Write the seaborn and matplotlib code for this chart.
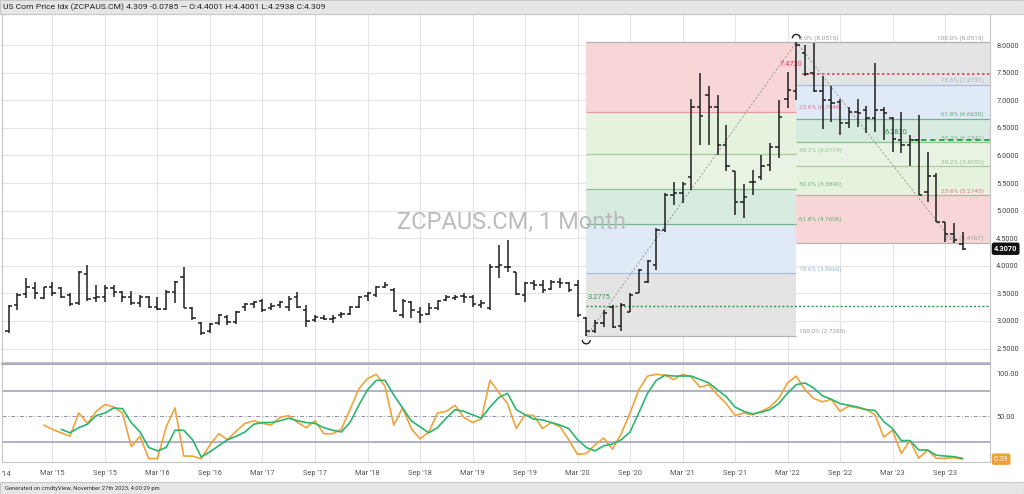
import matplotlib
matplotlib.use("Agg")
import matplotlib.pyplot as plt
import matplotlib.transforms as mtransforms
from matplotlib.patches import Arc, Rectangle
import seaborn as sns
import pandas as pd

sns.set_theme(style="white")
plt.rcParams["font.family"] = ["Roboto", "DejaVu Sans"]

# monthly bars, Oct 2014 .. Nov 2023
months = pd.date_range("2014-10-01", periods=110, freq="MS")

opens = [
    2.81, 3.29, 3.48, 3.59, 3.41, 3.62, 3.59, 3.47, 3.32, 3.86,
    3.41, 3.44, 3.59, 3.53, 3.44, 3.32, 3.44, 3.26, 3.22, 3.53,
    3.80, 3.24, 2.96, 2.81, 2.96, 3.08, 2.99, 3.26, 3.30, 3.36,
    3.24, 3.29, 3.26, 3.44, 3.20, 3.02, 3.06, 3.04, 3.10, 3.12,
    3.26, 3.46, 3.47, 3.62, 3.56, 3.11, 3.34, 3.16, 3.12, 3.23,
    3.38, 3.42, 3.46, 3.44, 3.29, 3.23, 3.98, 3.98, 3.88, 3.47,
    3.68, 3.65, 3.58, 3.70, 3.68, 3.65, 3.05, 2.81, 2.96, 3.26,
    2.91, 3.17, 3.50, 3.71, 4.01, 4.65, 5.28, 5.31, 5.61, 6.88,
    7.09, 6.87, 6.19, 5.71, 5.16, 5.52, 5.61, 5.83, 6.16, 7.03,
    7.16, 7.85, 7.49, 7.16, 7.00, 6.97, 6.58, 6.79, 6.82, 6.67,
    6.82, 6.67, 6.28, 6.19, 6.28, 5.34, 5.62, 4.80, 4.58, 4.40,
]
highs = [
    3.29, 3.50, 3.77, 3.71, 3.62, 3.70, 3.62, 3.50, 3.91, 4.01,
    3.65, 3.65, 3.65, 3.54, 3.54, 3.47, 3.46, 3.44, 3.56, 3.72,
    3.98, 3.26, 2.99, 2.96, 3.12, 3.10, 3.18, 3.32, 3.36, 3.40,
    3.32, 3.36, 3.46, 3.53, 3.29, 3.11, 3.10, 3.10, 3.16, 3.28,
    3.46, 3.53, 3.64, 3.71, 3.59, 3.40, 3.36, 3.26, 3.32, 3.38,
    3.47, 3.47, 3.50, 3.47, 3.38, 4.04, 4.38, 4.47, 3.89, 3.71,
    3.74, 3.74, 3.74, 3.77, 3.70, 3.74, 3.08, 3.02, 3.20, 3.29,
    3.32, 3.50, 3.95, 4.11, 4.68, 5.31, 5.51, 5.52, 7.03, 7.49,
    7.25, 7.09, 6.55, 5.71, 5.49, 5.74, 6.01, 6.22, 7.00, 7.52,
    8.0515, 8.00, 8.04, 7.43, 7.25, 7.03, 6.88, 7.03, 6.90, 7.67,
    6.88, 6.69, 6.79, 6.37, 6.73, 6.07, 5.68, 4.80, 4.78, 4.62,
]
lows = [
    2.78, 3.20, 3.41, 3.40, 3.40, 3.46, 3.41, 3.28, 3.29, 3.36,
    3.34, 3.34, 3.44, 3.35, 3.29, 3.26, 3.23, 3.20, 3.20, 3.32,
    3.23, 3.02, 2.75, 2.78, 2.93, 2.93, 2.94, 3.18, 3.24, 3.16,
    3.20, 3.24, 3.18, 3.23, 2.90, 2.99, 3.02, 2.96, 3.05, 3.10,
    3.24, 3.36, 3.44, 3.59, 3.17, 3.05, 3.06, 2.96, 3.11, 3.20,
    3.36, 3.38, 3.32, 3.26, 3.23, 3.20, 3.77, 3.89, 3.47, 3.34,
    3.56, 3.50, 3.56, 3.59, 3.53, 3.08, 2.7265, 2.78, 2.90, 2.87,
    2.81, 3.17, 3.50, 3.68, 3.92, 4.62, 5.10, 5.13, 5.37, 6.19,
    6.19, 6.01, 5.71, 4.92, 4.86, 5.28, 5.55, 5.71, 5.95, 6.85,
    7.00, 7.43, 7.14, 6.47, 6.61, 6.37, 6.49, 6.52, 6.40, 6.43,
    6.28, 6.07, 6.04, 5.80, 5.28, 5.16, 4.80, 4.44, 4.4167, 4.2938,
]
closes = [
    3.28, 3.47, 3.62, 3.50, 3.62, 3.50, 3.44, 3.30, 3.88, 3.40,
    3.44, 3.59, 3.53, 3.44, 3.32, 3.44, 3.26, 3.22, 3.53, 3.70,
    3.24, 3.05, 2.78, 2.94, 3.10, 2.99, 3.16, 3.30, 3.34, 3.20,
    3.28, 3.34, 3.40, 3.26, 3.00, 3.08, 3.04, 3.05, 3.12, 3.26,
    3.44, 3.50, 3.62, 3.66, 3.18, 3.36, 3.20, 3.10, 3.23, 3.36,
    3.44, 3.44, 3.44, 3.30, 3.32, 3.98, 4.01, 3.97, 3.48, 3.68,
    3.65, 3.56, 3.70, 3.68, 3.56, 3.11, 2.81, 2.97, 3.15, 2.90,
    3.29, 3.47, 3.92, 4.08, 4.65, 5.28, 5.31, 5.49, 6.88, 6.71,
    6.87, 6.19, 5.80, 5.16, 5.25, 5.52, 5.80, 6.16, 6.70, 7.18,
    8.00, 7.472, 7.16, 7.00, 6.95, 6.59, 6.79, 6.77, 6.67, 6.82,
    6.77, 6.30, 6.19, 6.28, 5.28, 5.62, 4.80, 4.58, 4.47, 4.309,
]

# stochastic oscillator (%K orange from bar 4, %D green from bar 6)
stoch_k_start = 4
stoch_k = [
    40, 35, 31, 27, 54, 42, 56, 64, 61, 54,
    15, 27, 1, 1, 38, 60, 4, 4, 1, 17,
    30, 23, 33, 42, 45, 42, 40, 49, 51, 43,
    37, 45, 30, 30, 35, 58, 82, 94, 99, 85,
    40, 60, 36, 24, 32, 54, 56, 63, 49, 43,
    47, 92, 78, 65,
    36, 52, 51, 36, 43, 38, 23, 6, 7, 17,
    25, 12, 30, 54, 81, 97, 99, 98, 93, 99,
    96, 84, 87, 75, 65, 51, 54, 52, 56, 61,
    71, 89, 97, 81, 71, 67, 70, 56, 62, 60,
    58, 52, 26, 34, 7, 22, 1.4, 11, 1.4, 1.4, 2.1, 0.39,
]
stoch_d_start = 6
stoch_d = [
    35, 31, 37, 41, 51, 54, 60, 59, 43, 32,
    14, 10, 14, 34, 34, 23, 3, 9, 16, 23,
    27, 32, 41, 43, 43, 45, 48, 45, 43, 42,
    37, 34, 32, 43, 63, 81, 92, 92, 75, 60,
    45, 38, 31, 37, 48, 58, 56, 52, 48, 61,
    72, 77,
    58, 52, 47, 46, 43, 40, 36, 23, 14, 10,
    16, 18, 23, 32, 54, 77, 92, 98, 97, 97,
    97, 93, 89, 81, 73, 61, 56, 53, 55, 58,
    65, 77, 87, 89, 83, 74, 70, 65, 63, 61,
    58, 57, 44, 36, 22, 22, 11, 11, 5, 4, 3.3, 1.4,
]

tick_labels = [
    "Mar '15", "Sep '15", "Mar '16", "Sep '16", "Mar '17", "Sep '17",
    "Mar '18", "Sep '18", "Mar '19", "Sep '19", "Mar '20", "Sep '20",
    "Mar '21", "Sep '21", "Mar '22", "Sep '22", "Mar '23", "Sep '23",
]
tick_months = pd.to_datetime([
    "2015-03", "2015-09", "2016-03", "2016-09", "2017-03", "2017-09",
    "2018-03", "2018-09", "2019-03", "2019-09", "2020-03", "2020-09",
    "2021-03", "2021-09", "2022-03", "2022-09", "2023-03", "2023-09",
])

# Fibonacci retracements
fib_pcts = ["0.0%", "23.6%", "38.2%", "50.0%", "61.8%", "78.6%", "100.0%"]
fib_up_levels = [8.0515, 6.7948, 6.0174, 5.3890, 4.7606, 3.8660, 2.7265]
fib_down_levels = [4.4167, 5.2745, 5.8052, 6.2341, 6.6630, 7.2737, 8.0515]
fib_low_bar, fib_high_bar, fib_low2_bar = 66, 90, 108

zone_colors = ["#f8d6d7", "#e5f2de", "#e8f3e4", "#d7ebe0", "#e0eaf7", "#e4e4e4"]
line_colors = ["#b4b4b4", "#e79aa6", "#a9cd9e", "#8cc28e", "#73b493", "#a9bde0", "#b0b0b0"]
text_colors = ["#9a9a9a", "#e07a8c", "#9cc490", "#7db57a", "#6aaa7e", "#9fb4d8", "#9a9a9a"]

header = ("US Corn Price Idx (ZCPAUS.CM) 4.309 -0.0785 \u2014 "
          "O:4.4001 H:4.4001 L:4.2938 C:4.309")
footer = "Generated on cmdtyView, November 27th 2023, 4:00:29 pm"

# ---------------------------------------------------------------
fig = plt.figure(figsize=(10.24, 4.94), dpi=100)
fig.patches.append(Rectangle((0, 1 - 14 / 494), 1, 14 / 494, transform=fig.transFigure,
                             fc="#e6e6e6", ec="#c8c8c8", lw=0.8, zorder=0))
fig.patches.append(Rectangle((0, 0), 1, 12 / 494, transform=fig.transFigure,
                             fc="#e6e6e6", ec="#c8c8c8", lw=0.8, zorder=0))

ax = fig.add_axes([2 / 1024, 1 - 362 / 494, 988 / 1024, 348 / 494])
ax2 = fig.add_axes([2 / 1024, 1 - 462 / 494, 988 / 1024, 98 / 494], sharex=ax)

xmin, xmax = -0.77, 112.14
x = list(range(len(closes)))
tick_pos = [months.get_loc(m) for m in tick_months]

# fib boxes
for k in range(6):
    ax.fill_between([fib_low_bar, fib_high_bar], fib_up_levels[k + 1], fib_up_levels[k],
                    color=zone_colors[k], lw=0, zorder=1)
    ax.fill_between([fib_high_bar, xmax], fib_down_levels[k], fib_down_levels[k + 1],
                    color=zone_colors[k], lw=0, zorder=1)
for k in range(7):
    ax.hlines(fib_up_levels[k], fib_low_bar, fib_high_bar, color=line_colors[k], lw=0.9, zorder=2)
    ax.hlines(fib_down_levels[k], fib_high_bar, xmax, color=line_colors[k], lw=0.9, zorder=2)
    ax.text(fib_high_bar + 0.3, fib_up_levels[k] + 0.03,
            f"{fib_pcts[k]} ({fib_up_levels[k]:.4f})", fontsize=4.6,
            color=text_colors[k], ha="left", va="bottom", zorder=3)
    ax.text(111.4, fib_down_levels[k] + 0.03,
            f"{fib_pcts[k]} ({fib_down_levels[k]:.4f})", fontsize=4.6,
            color=text_colors[k], ha="right", va="bottom", zorder=3)

# trend lines
ax.plot([fib_low_bar, fib_high_bar], [lows[fib_low_bar], highs[fib_high_bar]],
        ls=(0, (2, 2)), color="#999999", lw=0.7, zorder=3)
ax.plot([fib_high_bar, fib_low2_bar], [highs[fib_high_bar], lows[fib_low2_bar]],
        ls=(0, (2, 2)), color="#999999", lw=0.7, zorder=3)
ax.add_patch(Arc((fib_high_bar, highs[fib_high_bar] + 0.07), 0.9, 0.14,
                 theta1=0, theta2=180, color="#222222", lw=1.0, zorder=4))
ax.add_patch(Arc((fib_low_bar, lows[fib_low_bar] - 0.07), 0.9, 0.14,
                 theta1=180, theta2=360, color="#222222", lw=1.0, zorder=4))

# watermark
ax.text(0.516, 0.402, "ZCPAUS.CM, 1 Month", transform=ax.transAxes, fontsize=17,
        color="#bcbcbc", ha="center", va="center", zorder=2)

# horizontal price lines
ax.hlines(7.472, 90.6, xmax, color="#e0405a", lw=1.2, ls=(0, (1.5, 1.5)), zorder=4)
ax.text(90.7, 7.64, "7.4720", fontsize=5.3, color="#e0405a", ha="right", va="center", zorder=5)
ax.hlines(3.2775, 66, xmax, color="#2a9a48", lw=1.0, ls=(0, (1.5, 1.5)), zorder=4)
ax.text(66.2, 3.42, "3.2775", fontsize=5.3, color="#3a9a50", ha="left", va="center", zorder=5)
ax.hlines(6.282, 103.2, xmax, color="#1e9e3e", lw=1.3, ls=(0, (3, 2)), zorder=4)
ax.text(102.7, 6.41, "6.2820", fontsize=5.3, color="#2a9a48", ha="right", va="center", zorder=5)

# OHLC bars
bar_color = "#1e1e1e"
ax.vlines(x, lows, highs, color=bar_color, lw=1.1, zorder=6)
ax.hlines(opens, [i - 0.38 for i in x], x, color=bar_color, lw=1.1, zorder=6)
ax.hlines(closes, x, [i + 0.38 for i in x], color=bar_color, lw=1.1, zorder=6)

ax.set_xlim(xmin, xmax)
ax.set_ylim(2.257, 8.562)
ax.set_yticks([2.5 + 0.5 * k for k in range(12)])
ax.set_yticklabels([f"{2.5 + 0.5 * k:.4f}" for k in range(12)])
ax.yaxis.tick_right()
ax.tick_params(axis="y", length=0, pad=4.5, labelsize=5.3, labelcolor="#444444")
ax.tick_params(axis="x", length=0, labelbottom=False)
ax.set_xticks(tick_pos)
ax.grid(True, color="#e4e4e4", lw=0.8, zorder=0)
ax.set_axisbelow(True)
for s in ax.spines.values():
    s.set_color("#c4c4c4")
    s.set_linewidth(0.8)

# price tag
blend = mtransforms.blended_transform_factory(ax.transAxes, ax.transData)
ax.text(1.004, closes[-1], "4.3070", transform=blend, fontsize=5.3, color="white",
        weight="bold", ha="left", va="center", clip_on=False,
        bbox=dict(boxstyle="round,pad=0.3", fc="#111111", ec="none"))

# stochastic panel
k_df = pd.DataFrame({"bar": x[stoch_k_start:], "value": stoch_k})
d_df = pd.DataFrame({"bar": x[stoch_d_start:], "value": stoch_d})
ax2.axhline(80, color="#a3a3bd", lw=1.2, zorder=1)
ax2.axhline(20, color="#a3a3bd", lw=1.2, zorder=1)
ax2.axhline(50, color="#8f8faa", lw=0.7, ls=(0, (4, 2, 1, 2)), zorder=1)
sns.lineplot(data=k_df, x="bar", y="value", ax=ax2, color="#f0a33a", lw=1.2, zorder=3)
sns.lineplot(data=d_df, x="bar", y="value", ax=ax2, color="#2bb56e", lw=1.2, zorder=4)
ax2.set_ylim(-2.9, 111)
ax2.set_xlim(xmin, xmax)
ax2.set_xlabel("")
ax2.set_ylabel("")
ax2.set_yticks([50, 100])
ax2.set_yticklabels(["50.00", "100.00"])
ax2.yaxis.tick_right()
ax2.tick_params(axis="y", length=0, pad=4.5, labelsize=5.3, labelcolor="#444444")
ax2.set_xticks(tick_pos)
ax2.set_xticklabels(tick_labels)
ax2.tick_params(axis="x", length=0, pad=6, labelsize=5.3, labelcolor="#555555")
ax2.grid(True, axis="x", color="#e4e4e4", lw=0.8, zorder=0)
ax2.set_axisbelow(True)
for s in ax2.spines.values():
    s.set_color("#c4c4c4")
    s.set_linewidth(0.8)
ax2.spines["top"].set_color("#a3a3bd")
ax2.spines["top"].set_linewidth(1.3)

blend2 = mtransforms.blended_transform_factory(ax2.transAxes, ax2.transData)
ax2.text(1.004, stoch_k[-1], "0.39", transform=blend2, fontsize=5.3, color="white",
         ha="left", va="center", clip_on=False,
         bbox=dict(boxstyle="round,pad=0.3", fc="#f0a030", ec="none"))

fig.text(2 / 1024, 1 - 474 / 494, "'14", fontsize=5.3, color="#555555", va="center")
fig.text(3 / 1024, 1 - 7 / 494, header, fontsize=6.1, color="#222222", va="center")
fig.text(5 / 1024, 1 - 488 / 494, footer, fontsize=4.2, color="#333333", va="center")

fig.savefig("out.png", dpi=100)
